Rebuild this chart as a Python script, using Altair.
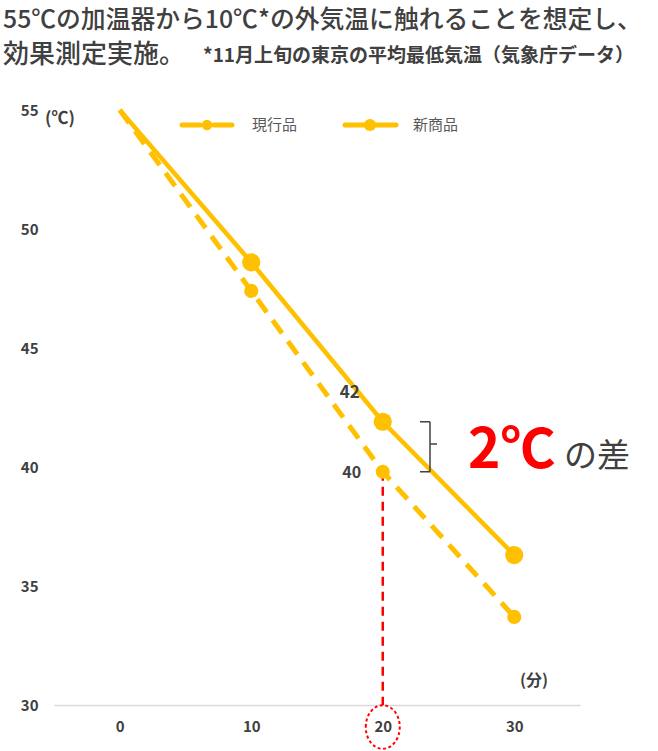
import altair as alt
import pandas as pd

# ---- data ----
minutes = [0, 10, 20, 30]
current_vals = [55, 47.4, 39.8, 33.7]   # 現行品
new_vals = [55, 48.6, 41.9, 36.3]       # 新商品
y_ticks = [30, 35, 40, 45, 50, 55]
x_ticks = [0, 10, 20, 30]

title1 = "55℃の加温器から10℃*の外気温に触れることを想定し、"
title2a = "効果測定実施。"
title2b = "*11月上旬の東京の平均最低気温（気象庁データ）"
legend_labels = ["現行品", "新商品"]

GOLD = "#FFC000"
DARK = "#404040"
FONT = "Noto Sans CJK JP"

df = pd.DataFrame({"minute": minutes, "current": current_vals, "new": new_vals})

xs = alt.Scale(domain=[-5, 35], nice=False, zero=False)
ys = alt.Scale(domain=[30, 55], nice=False, zero=False)

xax = alt.Axis(values=x_ticks, title=None, grid=False, ticks=False, tickSize=0,
               domainColor="#d9d9d9", domainWidth=1.5, labelFont=FONT,
               labelFontSize=15, labelFontWeight="bold", labelColor=DARK,
               labelPadding=14)
yax = alt.Axis(values=y_ticks, title=None, grid=False, ticks=False, tickSize=0,
               domain=False, labelFont=FONT, labelFontSize=15,
               labelFontWeight="bold", labelColor=DARK, labelPadding=16)

base = alt.Chart(df)

line_cur = base.mark_line(color=GOLD, strokeWidth=5, strokeDash=[16, 10]).encode(
    x=alt.X("minute:Q", scale=xs, axis=xax),
    y=alt.Y("current:Q", scale=ys, axis=yax),
)
pts_cur = base.transform_filter("datum.minute > 0").mark_point(
    filled=True, color=GOLD, size=200, opacity=1).encode(
    x=alt.X("minute:Q", scale=xs), y=alt.Y("current:Q", scale=ys))

line_new = base.mark_line(color=GOLD, strokeWidth=4.5).encode(
    x=alt.X("minute:Q", scale=xs), y=alt.Y("new:Q", scale=ys))
pts_new = base.transform_filter("datum.minute > 0").mark_point(
    filled=True, color=GOLD, size=330, opacity=1).encode(
    x=alt.X("minute:Q", scale=xs), y=alt.Y("new:Q", scale=ys))

# data labels at 20 minutes
lab_new = base.transform_filter("datum.minute == 20").mark_text(
    font=FONT, fontSize=17, fontWeight="bold", color=DARK, dx=-33, dy=-29).encode(
    x=alt.X("minute:Q", scale=xs), y=alt.Y("new:Q", scale=ys),
    text=alt.Text("new:Q", format=".0f"))
lab_cur = base.transform_filter("datum.minute == 20").mark_text(
    font=FONT, fontSize=16, fontWeight="bold", color=DARK, dx=-31, dy=1).encode(
    x=alt.X("minute:Q", scale=xs), y=alt.Y("current:Q", scale=ys),
    text=alt.Text("current:Q", format=".0f"))

# red dashed drop line at 20 min
drop = base.transform_filter("datum.minute == 20").mark_rule(
    color="#FF0000", strokeWidth=2.5, strokeDash=[9, 6]).encode(
    x=alt.X("minute:Q", scale=xs), y=alt.Y("current:Q", scale=ys),
    y2=alt.datum(30))

ellipse = base.transform_filter("datum.minute == 20").mark_point(
    shape="M -0.78 0 A 0.78 1 0 1 1 0.78 0 A 0.78 1 0 1 1 -0.78 0",
    filled=False, color="#FF0000", strokeWidth=2, strokeDash=[3, 2.5],
    size=1900, opacity=1).encode(
    x=alt.X("minute:Q", scale=xs), y=alt.value(617))

# bracket between the two 20-min values
br = base.transform_filter("datum.minute == 20")
br_v = br.mark_rule(color=DARK, strokeWidth=1.5).encode(
    x=alt.value(376), y=alt.Y("new:Q", scale=ys), y2="current:Q")
br_t = br.mark_rule(color=DARK, strokeWidth=1.5).encode(
    x=alt.value(366), x2=alt.value(376), y=alt.Y("new:Q", scale=ys))
br_b = br.mark_rule(color=DARK, strokeWidth=1.5).encode(
    x=alt.value(366), x2=alt.value(376), y=alt.Y("current:Q", scale=ys))
br_m = br.mark_rule(color=DARK, strokeWidth=1.5).encode(
    x=alt.value(376), x2=alt.value(383), y=alt.value(334))


def txt(s, x, y, size, color=DARK, weight="normal", align="left", baseline="alphabetic"):
    return alt.Chart(pd.DataFrame({"t": [s]})).mark_text(
        font=FONT, fontSize=size, fontWeight=weight, color=color,
        align=align, baseline=baseline).encode(
        x=alt.value(x), y=alt.value(y), text="t:N")


t1 = txt(title1, -51, -82, 24.8, weight=500)
t2a = txt(title2a, -51, -47, 26, weight=500)
t2b = txt(title2b, 149, -48, 19, weight="bold")
unit_c = txt("(℃)", -9, 14, 17, weight="bold")
unit_m = txt("(分)", 466, 576, 16, weight="bold")
diff1 = txt("2℃", 414, 358, 55, color="#FF0000", weight="bold")
diff2 = txt("の差", 510, 357, 33)

# manual legend
leg_y = 15
leg = [
    alt.Chart(df.head(1)).mark_rule(color=GOLD, strokeWidth=5, strokeCap="round").encode(
        x=alt.value(128), x2=alt.value(146), y=alt.value(leg_y)),
    alt.Chart(df.head(1)).mark_rule(color=GOLD, strokeWidth=5, strokeCap="round").encode(
        x=alt.value(160), x2=alt.value(178), y=alt.value(leg_y)),
    alt.Chart(df.head(1)).mark_point(filled=True, color=GOLD, size=110, opacity=1).encode(
        x=alt.value(153), y=alt.value(leg_y)),
    alt.Chart(df.head(1)).mark_rule(color=GOLD, strokeWidth=5, strokeCap="round").encode(
        x=alt.value(291), x2=alt.value(342), y=alt.value(leg_y)),
    alt.Chart(df.head(1)).mark_point(filled=True, color=GOLD, size=150, opacity=1).encode(
        x=alt.value(316), y=alt.value(leg_y)),
    txt(legend_labels[0], 198, leg_y, 15, color="#595959", baseline="middle"),
    txt(legend_labels[1], 359, leg_y, 15, color="#595959", baseline="middle"),
]

chart = alt.layer(
    drop, ellipse, line_cur, line_new, pts_cur, pts_new, lab_new, lab_cur,
    br_v, br_t, br_b, br_m, t1, t2a, t2b, unit_c, unit_m, diff1, diff2, *leg
).properties(
    width=526, height=595,
    autosize=alt.AutoSizeParams(type="none"),
    padding={"left": 54, "top": 110, "right": 78, "bottom": 46},
).configure_view(stroke=None)

chart.save("out.html", embed_options={"renderer": "svg", "actions": False})
